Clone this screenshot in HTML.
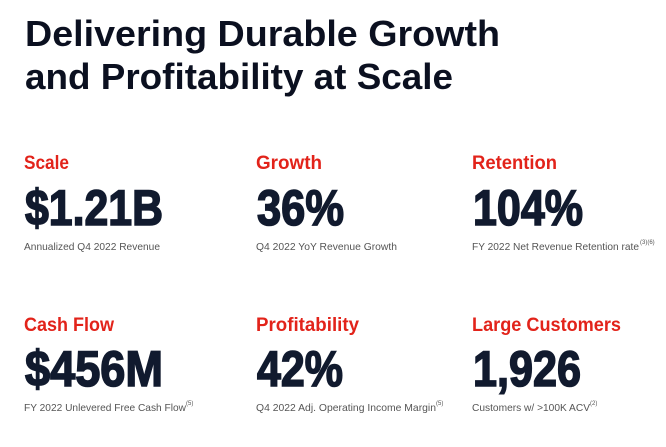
<!DOCTYPE html>
<html><head><meta charset="utf-8"><style>
html,body{margin:0;padding:0;background:#fff;width:666px;height:447px;overflow:hidden}
svg{display:block}
.t{font-family:"Liberation Sans",sans-serif;font-weight:bold;fill:#0b1020;font-size:36px}
.l{font-family:"Liberation Sans",sans-serif;font-weight:bold;fill:#e2231a;font-size:19px}
.n{font-family:"Liberation Sans",sans-serif;font-weight:bold;fill:#111a2e;font-size:50px;stroke:#111a2e;stroke-width:1.6px}
.s{font-family:"Liberation Sans",sans-serif;fill:#555;font-size:10.5px}
.sup{font-size:6px}
</style></head><body>
<svg width="666" height="447" viewBox="0 0 666 447">
<text class="t" x="25" y="46" textLength="475" lengthAdjust="spacingAndGlyphs">Delivering Durable Growth</text>
<text class="t" x="25" y="89" textLength="428" lengthAdjust="spacingAndGlyphs">and Profitability at Scale</text>

<g>
<text class="l" x="24" y="169" textLength="45" lengthAdjust="spacingAndGlyphs">Scale</text>
<text class="n" x="25" y="225" textLength="138" lengthAdjust="spacingAndGlyphs">$1.21B</text>
<text class="s" x="24" y="250" textLength="136" lengthAdjust="spacingAndGlyphs">Annualized Q4 2022 Revenue</text>
</g>
<g>
<text class="l" x="256" y="169" textLength="66" lengthAdjust="spacingAndGlyphs">Growth</text>
<text class="n" x="257" y="225" textLength="87" lengthAdjust="spacingAndGlyphs">36%</text>
<text class="s" x="256" y="250" textLength="141" lengthAdjust="spacingAndGlyphs">Q4 2022 YoY Revenue Growth</text>
</g>
<g>
<text class="l" x="472" y="169" textLength="85" lengthAdjust="spacingAndGlyphs">Retention</text>
<text class="n" x="473" y="225" textLength="110" lengthAdjust="spacingAndGlyphs">104%</text>
<text class="s" x="472" y="250" textLength="167" lengthAdjust="spacingAndGlyphs">FY 2022 Net Revenue Retention rate</text>
<text class="s sup" x="640" y="244">(3)(6)</text>
</g>

<g>
<text class="l" x="24" y="331" textLength="90" lengthAdjust="spacingAndGlyphs">Cash Flow</text>
<text class="n" x="25" y="386" textLength="138" lengthAdjust="spacingAndGlyphs">$456M</text>
<text class="s" x="24" y="411" textLength="162" lengthAdjust="spacingAndGlyphs">FY 2022 Unlevered Free Cash Flow</text>
<text class="s sup" x="186" y="405">(5)</text>
</g>
<g>
<text class="l" x="256" y="331" textLength="103" lengthAdjust="spacingAndGlyphs">Profitability</text>
<text class="n" x="257" y="386" textLength="86" lengthAdjust="spacingAndGlyphs">42%</text>
<text class="s" x="256" y="411" textLength="180" lengthAdjust="spacingAndGlyphs">Q4 2022 Adj. Operating Income Margin</text>
<text class="s sup" x="436" y="405">(5)</text>
</g>
<g>
<text class="l" x="472" y="331" textLength="149" lengthAdjust="spacingAndGlyphs">Large Customers</text>
<text class="n" x="473" y="386" textLength="108" lengthAdjust="spacingAndGlyphs">1,926</text>
<text class="s" x="472" y="411" textLength="118" lengthAdjust="spacingAndGlyphs">Customers w/ &gt;100K ACV</text>
<text class="s sup" x="590" y="405">(2)</text>
</g>
</svg>
</body></html>
